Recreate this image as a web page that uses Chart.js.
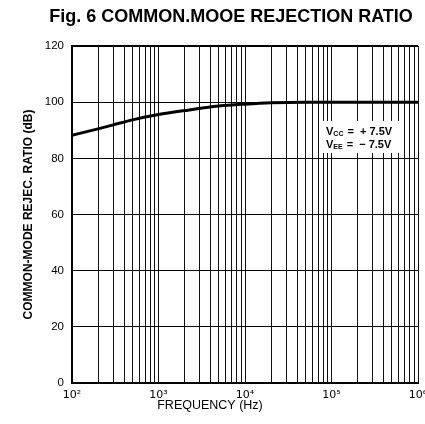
<!DOCTYPE html>
<html>
<head>
<meta charset="utf-8">
<script src="https://cdn.jsdelivr.net/npm/chart.js@4/dist/chart.umd.min.js"></script>
<style>
  body { margin: 0; background: #fff; }
  canvas { display: block; }
</style>
</head>
<body>
<canvas id="cmrrChart" width="425" height="424"></canvas>
<script>
// frequency (Hz) and common-mode rejection ratio (dB)
const freqs = [100, 200, 300, 500, 1000, 2000, 5000, 10000, 20000, 50000, 100000, 1000000];
const cmrr = [88.2, 90.5, 91.9, 93.7, 95.6, 97.0, 98.6, 99.3, 99.8, 100, 100, 100];

const decades = [100, 1000, 10000, 100000, 1000000];
const decadeLabels = ['10²', '10³', '10⁴', '10⁵', '10⁶'];
const yTicks = [0, 20, 40, 60, 80, 100, 120];

const titleText = 'Fig. 6 COMMON.MOOE REJECTION RATIO';
const xTitle = 'FREQUENCY (Hz)';
const yTitle = 'COMMON-MODE REJEC. RATIO (dB)';

// log grid: 1..9 per decade
const gridTicks = [];
decades.slice(0, -1).forEach(d => {
    for (let m = 1; m <= 9; m++) gridTicks.push(d * m);
});
gridTicks.push(decades[decades.length - 1]);

const textPlugin = {
    id: 'figText',
    afterDraw(chart) {
        const ctx = chart.ctx;
        ctx.save();
        ctx.fillStyle = '#000';
        ctx.textAlign = 'center';
        ctx.textBaseline = 'alphabetic';
        ctx.font = 'bold 18px "Liberation Sans", Arial, sans-serif';
        ctx.fillText(titleText, 231, 22);

        ctx.font = '12.5px "Liberation Sans", Arial, sans-serif';
        ctx.textBaseline = 'middle';
        ctx.fillText(xTitle, 210, 406);

        // supply voltage note
        ctx.fillStyle = '#fff';
        ctx.fillRect(321, 121, 81, 32);
        ctx.fillStyle = '#000';
        ctx.textAlign = 'left';
        ctx.textBaseline = 'alphabetic';
        const notes = [['CC', '=  + 7.5V', 135], ['EE', '=  − 7.5V', 147.5]];
        notes.forEach(([sub, rest, y]) => {
            let x = 326;
            ctx.font = 'bold 11px "Liberation Sans", Arial, sans-serif';
            ctx.fillText('V', x, y);
            x += ctx.measureText('V').width;
            ctx.font = 'bold 7px "Liberation Sans", Arial, sans-serif';
            ctx.fillText(sub, x, y + 1);
            x += ctx.measureText(sub).width + 4;
            ctx.font = 'bold 11px "Liberation Sans", Arial, sans-serif';
            ctx.fillText(rest, x, y);
        });
        ctx.restore();
    }
};

new Chart(document.getElementById('cmrrChart'), {
    type: 'line',
    data: {
        labels: freqs,
        datasets: [{
            data: freqs.map((f, i) => ({ x: f, y: cmrr[i] })),
            borderColor: '#000',
            borderWidth: 3,
            pointRadius: 0,
            cubicInterpolationMode: 'monotone',
        }],
    },
    options: {
        responsive: false,
        animation: false,
        layout: { padding: { top: 46, right: 7, bottom: 0, left: 0 } },
        plugins: {
            legend: { display: false },
            tooltip: { enabled: false },
        },
        scales: {
            x: {
                type: 'logarithmic',
                min: 100,
                max: 1000000,
                afterBuildTicks: scale => {
                    scale.ticks = gridTicks.map(v => ({ value: v }));
                },
                afterFit: scale => {
                    scale.height = 41;
                    scale.paddingLeft = 0;
                    scale.paddingRight = 0;
                },
                ticks: {
                    autoSkip: false,
                    maxRotation: 0,
                    padding: 6,
                    color: '#000',
                    font: { size: 11, family: '"DejaVu Sans", sans-serif' },
                    callback: value => {
                        const i = decades.indexOf(value);
                        return i >= 0 ? decadeLabels[i] : '';
                    },
                },
                grid: {
                    color: '#111',
                    lineWidth: 1,
                    drawTicks: false,
                },
                border: { display: true, color: '#000', width: 2 },
            },
            y: {
                min: 0,
                max: 120,
                afterBuildTicks: scale => {
                    scale.ticks = yTicks.map(v => ({ value: v }));
                },
                afterFit: scale => { scale.width = 72; },
                ticks: {
                    padding: 8,
                    color: '#000',
                    font: { size: 11.5, family: '"Liberation Sans", Arial, sans-serif' },
                },
                grid: {
                    color: '#000',
                    lineWidth: ctx => (ctx.tick && ctx.tick.value === 120 ? 2 : 1),
                    drawTicks: false,
                },
                border: { display: true, color: '#000', width: 2 },
                title: {
                    display: true,
                    text: yTitle,
                    color: '#000',
                    padding: { top: 21, bottom: 0 },
                    font: { size: 12, weight: 'bold', family: '"Liberation Sans", Arial, sans-serif' },
                },
            },
        },
    },
    plugins: [textPlugin],
});
</script>
</body>
</html>
